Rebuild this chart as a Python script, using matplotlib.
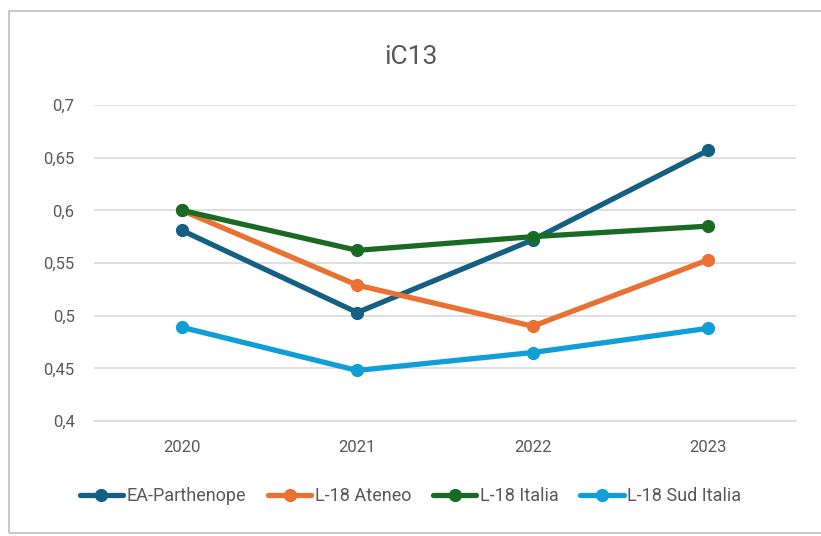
import matplotlib
matplotlib.use("Agg")
import matplotlib.pyplot as plt
from matplotlib.patches import Rectangle
from matplotlib.ticker import FuncFormatter, MultipleLocator

plt.rcParams['font.family'] = ['Roboto', 'DejaVu Sans']

years = ["2020", "2021", "2022", "2023"]
ea_parthenope = [0.581, 0.503, 0.572, 0.657]
l18_ateneo = [0.600, 0.529, 0.490, 0.553]
l18_italia = [0.600, 0.562, 0.575, 0.585]
l18_sud_italia = [0.489, 0.448, 0.465, 0.488]

series = [
    ("EA-Parthenope", ea_parthenope, "#156082"),
    ("L-18 Ateneo", l18_ateneo, "#E97132"),
    ("L-18 Italia", l18_italia, "#196B24"),
    ("L-18 Sud Italia", l18_sud_italia, "#0F9ED5"),
]

fig = plt.figure(figsize=(8.21, 5.36), dpi=100)
fig.patch.set_facecolor("white")
# chart border
fig.patches.append(Rectangle((9/821, 3/536), 815/821, 522/536, transform=fig.transFigure,
                             fill=False, edgecolor="#BFBFBF", linewidth=1.2))

ax = fig.add_axes([94/821, (536-421)/536, (796-94)/821, (421-105)/536])
x = list(range(len(years)))
for name, vals, col in series:
    ax.plot(x, vals, color=col, linewidth=3.8, marker="o", markersize=8.5,
            label=name, solid_capstyle="round")

ax.set_xlim(-0.5, len(years) - 0.5)
ax.set_ylim(0.4, 0.7)
ax.yaxis.set_major_locator(MultipleLocator(0.05))
ax.yaxis.set_major_formatter(FuncFormatter(lambda v, p: f"{v:.2f}".rstrip("0").rstrip(".").replace(".", ",")))
ax.set_xticks(x)
ax.set_xticklabels(years)
ax.grid(axis="y", color="#D9D9D9", linewidth=1.2)
ax.set_axisbelow(True)
for s in ["top", "right", "left"]:
    ax.spines[s].set_visible(False)
ax.spines["bottom"].set_color("#D9D9D9")
ax.spines["bottom"].set_linewidth(1.2)
ax.tick_params(axis="both", length=0, labelsize=12, labelcolor="#595959")
ax.tick_params(axis="y", pad=14)
ax.tick_params(axis="x", pad=14)

fig.text(0.5, 1 - 57/536, "iC13", ha="center", va="center", fontsize=19, color="#595959")

fig.legend(loc="center", bbox_to_anchor=(0.5, 1 - 496/536), ncol=4, frameon=False,
           fontsize=13, labelcolor="#595959", handlelength=2.4, handletextpad=0.2,
           columnspacing=1.2)

fig.savefig("out.png", dpi=100, facecolor="white")
